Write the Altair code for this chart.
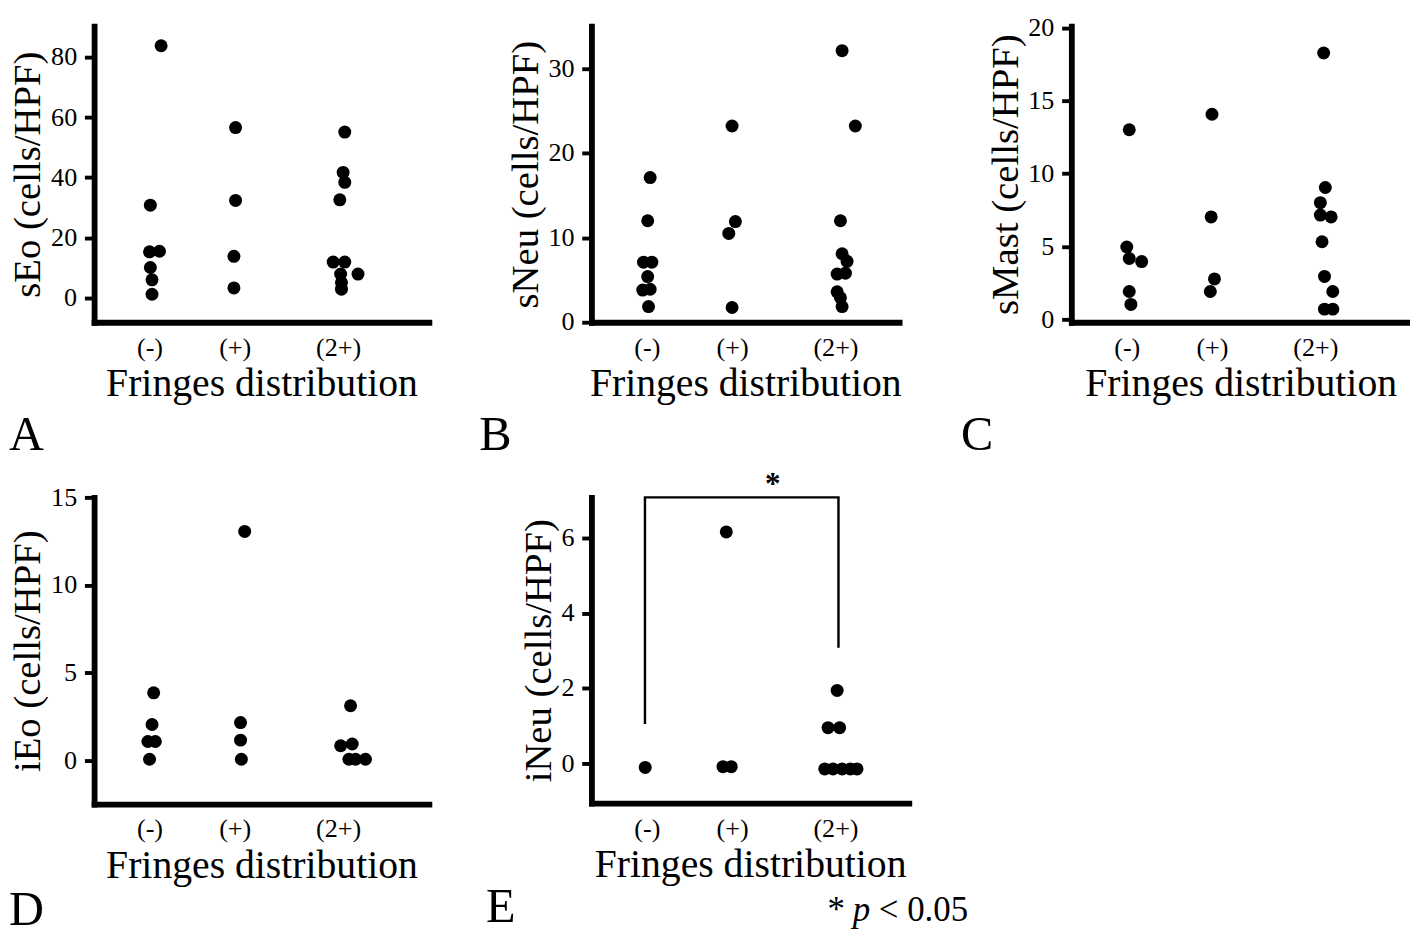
import altair as alt
import pandas as pd

FONT = "Liberation Serif"

CATEGORIES = ["(-)", "(+)", "(2+)"]
CAT_POS = [1.0, 2.0, 3.33]
LABEL_POS = [0.97, 2.0, 3.25]
PX_PER_UNIT = 85.5
X_MIN = 0.3
X_TITLE = "Fringes distribution"

# Panel A: sEo
sEo_neg = [83.8, 30.8, 15.3, 15.5, 10.1, 6.0, 1.2]
sEo_neg_jit = [0.11, -0.02, -0.03, 0.09, -0.02, 0.0, 0.0]
sEo_pos = [56.6, 32.4, 13.8, 3.3]
sEo_pos_jit = [0.01, 0.01, -0.01, -0.01]
sEo_2pos = [55.1, 41.7, 38.4, 32.6, 11.9, 11.9, 7.9, 7.9, 5.1, 2.9]
sEo_2pos_jit = [0.0, -0.02, 0.0, -0.06, -0.14, 0.0, -0.05, 0.16, -0.04, -0.04]

# Panel B: sNeu
sNeu_neg = [17.1, 12.0, 7.1, 7.1, 5.4, 3.8, 3.9, 1.85]
sNeu_neg_jit = [0.01, -0.02, -0.07, 0.03, -0.02, -0.08, 0.01, -0.01]
sNeu_pos = [23.2, 11.9, 10.5, 1.74]
sNeu_pos_jit = [0.0, 0.04, -0.04, 0.0]
sNeu_2pos = [32.1, 23.2, 12.0, 8.1, 7.2, 5.7, 5.8, 3.6, 2.9, 1.85]
sNeu_2pos_jit = [0.0, 0.16, -0.02, 0.0, 0.06, -0.06, 0.04, -0.06, -0.02, 0.0]

# Panel C: sMast
sMast_neg = [13.0, 4.96, 4.17, 3.96, 1.91, 1.02]
sMast_neg_jit = [0.0, -0.03, 0.0, 0.15, 0.0, 0.02]
sMast_pos = [14.06, 7.02, 2.77, 1.91]
sMast_pos_jit = [0.0, -0.01, 0.03, -0.02]
sMast_2pos = [18.26, 9.04, 8.0, 7.15, 7.02, 5.32, 2.94, 1.91, 0.70, 0.70]
sMast_2pos_jit = [0.02, 0.04, -0.02, -0.02, 0.11, 0.0, 0.03, 0.13, 0.03, 0.13]

# Panel D: iEo
iEo_neg = [3.85, 2.04, 1.07, 1.07, 0.06]
iEo_neg_jit = [0.02, 0.0, -0.05, 0.04, -0.03]
iEo_pos = [13.06, 2.15, 1.15, 0.06]
iEo_pos_jit = [0.12, 0.07, 0.07, 0.08]
iEo_2pos = [3.11, 0.83, 0.93, 0.06, 0.06, 0.06]
iEo_2pos_jit = [0.07, -0.05, 0.09, 0.05, 0.13, 0.25]

# Panel E: iNeu
iNeu_neg = [-0.11]
iNeu_neg_jit = [-0.05]
iNeu_pos = [6.16, -0.09, -0.09]
iNeu_pos_jit = [-0.07, -0.11, -0.01]
iNeu_2pos = [1.94, 0.95, 0.95, -0.15, -0.15, -0.15, -0.15, -0.15]
iNeu_2pos_jit = [-0.06, -0.17, -0.03, -0.21, -0.11, 0.0, 0.10, 0.18]

# significance bracket in panel E (data units)
BRACKET_X = [0.947, 0.947, 3.286, 3.286]
BRACKET_Y = [1.05, 7.08, 7.08, 3.08]
STAR_X = 2.49
STAR_Y = 7.17


def make_df(groups):
    rows = []
    for ci, (vals, jits) in enumerate(groups):
        for v, j in zip(vals, jits):
            rows.append({"x": CAT_POS[ci] + j, "y": v, "group": CATEGORIES[ci]})
    return pd.DataFrame(rows)


label_expr = (
    f"datum.value < 1.5 ? '{CATEGORIES[0]}' : "
    f"(datum.value < 2.6 ? '{CATEGORIES[1]}' : '{CATEGORIES[2]}')"
)


def encodings(ytitle, ydomain, yticks, width):
    xscale = alt.Scale(domain=[X_MIN, X_MIN + width / PX_PER_UNIT], nice=False, zero=False)
    yscale = alt.Scale(domain=ydomain, nice=False, zero=False)
    ex = alt.X("x:Q", scale=xscale,
               axis=alt.Axis(values=LABEL_POS, labelExpr=label_expr, title=X_TITLE,
                             ticks=False, tickSize=0, labelPadding=13,
                             titleFontSize=41, titlePadding=5,
                             labelFlush=False, labelOverlap=False))
    ey = alt.Y("y:Q", scale=yscale,
               axis=alt.Axis(values=yticks, title=ytitle, labelOverlap=False,
                             labelFlush=False))
    return ex, ey


def points(groups, ex, ey):
    return alt.Chart(make_df(groups)).mark_circle(size=180, color="black", opacity=1).encode(
        x=ex, y=ey)


W_A, W_B, W_C, W_D, W_E = 346, 318, 350, 346, 328
H_TOP, H_D, H_E = 306, 317, 316

exA, eyA = encodings("sEo (cells/HPF)", [-8.1, 90.3], [0, 20, 40, 60, 80], W_A)
exB, eyB = encodings("sNeu (cells/HPF)", [0, 35], [0, 10, 20, 30], W_B)
exC, eyC = encodings("sMast (cells/HPF)", [-0.2, 20.1], [0, 5, 10, 15, 20], W_C)
exD, eyD = encodings("iEo (cells/HPF)", [-2.5, 15], [0, 5, 10, 15], W_D)
exE, eyE = encodings("iNeu (cells/HPF)", [-1.06, 7.08], [0, 2, 4, 6], W_E)

pA = points([(sEo_neg, sEo_neg_jit), (sEo_pos, sEo_pos_jit), (sEo_2pos, sEo_2pos_jit)], exA, eyA)
pB = points([(sNeu_neg, sNeu_neg_jit), (sNeu_pos, sNeu_pos_jit), (sNeu_2pos, sNeu_2pos_jit)], exB, eyB)
pC = points([(sMast_neg, sMast_neg_jit), (sMast_pos, sMast_pos_jit), (sMast_2pos, sMast_2pos_jit)], exC, eyC)
pD = points([(iEo_neg, iEo_neg_jit), (iEo_pos, iEo_pos_jit), (iEo_2pos, iEo_2pos_jit)], exD, eyD)
pE = points([(iNeu_neg, iNeu_neg_jit), (iNeu_pos, iNeu_pos_jit), (iNeu_2pos, iNeu_2pos_jit)], exE, eyE)

bracket_df = pd.DataFrame({"x": BRACKET_X, "y": BRACKET_Y, "o": list(range(len(BRACKET_X)))})
bracket = alt.Chart(bracket_df).mark_line(color="black", strokeWidth=2.5, clip=False).encode(
    x=exE, y=eyE, order="o:Q",
)
star = alt.Chart(pd.DataFrame({"x": [STAR_X], "y": [STAR_Y], "t": ["*"]})).mark_text(
    font=FONT, fontSize=32, fontWeight="bold", color="black", align="center",
    baseline="alphabetic", clip=False
).encode(x=exE, y=eyE, text="t:N")

NOTE_Y = 438
note_star = alt.Chart(pd.DataFrame({"t": ["*"]})).mark_text(
    font=FONT, fontSize=36, color="black", align="left", baseline="alphabetic"
).encode(x=alt.value(244), y=alt.value(NOTE_Y), text="t:N")
note_p = alt.Chart(pd.DataFrame({"t": ["p"]})).mark_text(
    font=FONT, fontSize=36, fontStyle="italic", color="black", align="left", baseline="alphabetic"
).encode(x=alt.value(270), y=alt.value(NOTE_Y), text="t:N")
note_rest = alt.Chart(pd.DataFrame({"t": ["< 0.05"]})).mark_text(
    font=FONT, fontSize=36, color="black", align="left", baseline="alphabetic"
).encode(x=alt.value(297), y=alt.value(NOTE_Y), text="t:N")
letter_E = alt.Chart(pd.DataFrame({"t": ["E"]})).mark_text(
    font=FONT, fontSize=50, color="black", align="left", baseline="alphabetic"
).encode(x=alt.value(-109), y=alt.value(NOTE_Y + 1), text="t:N")


def letter(t, dx, offset=8):
    return alt.TitleParams(text=t, orient="bottom", anchor="start", dx=dx, offset=offset,
                           font=FONT, fontSize=50, fontWeight="normal", color="black")


cA = pA.properties(width=W_A, height=H_TOP, title=letter("A", 0))
cB = pB.properties(width=W_B, height=H_TOP, title=letter("B", -28))
cC = pC.properties(width=W_C, height=H_TOP, title=letter("C", -26))
cD = pD.properties(width=W_D, height=H_D, title=letter("D", 0, offset=1))
cE = alt.layer(pE, bracket, star, note_star, note_p, note_rest, letter_E).properties(
    width=W_E, height=H_E)

chart = alt.ConcatChart(
    concat=[cA, cB, cC, cD, cE],
    columns=3,
    spacing={"row": 181, "column": 168},
    bounds="flush",
    align="none",
).properties(
    padding={"left": 0, "top": -10, "right": 0, "bottom": 0}
).configure(
    font=FONT
).configure_axis(
    domainColor="black", domainWidth=6, domainCap="square",
    tickColor="black", tickWidth=4, tickSize=10,
    labelColor="black", labelFont=FONT, labelFontSize=27, labelPadding=8,
    titleColor="black", titleFont=FONT, titleFontSize=40, titleFontWeight="normal",
    titlePadding=3, grid=False,
).configure_view(stroke=None)

chart.save("out.html", embed_options={"renderer": "svg", "actions": False})
